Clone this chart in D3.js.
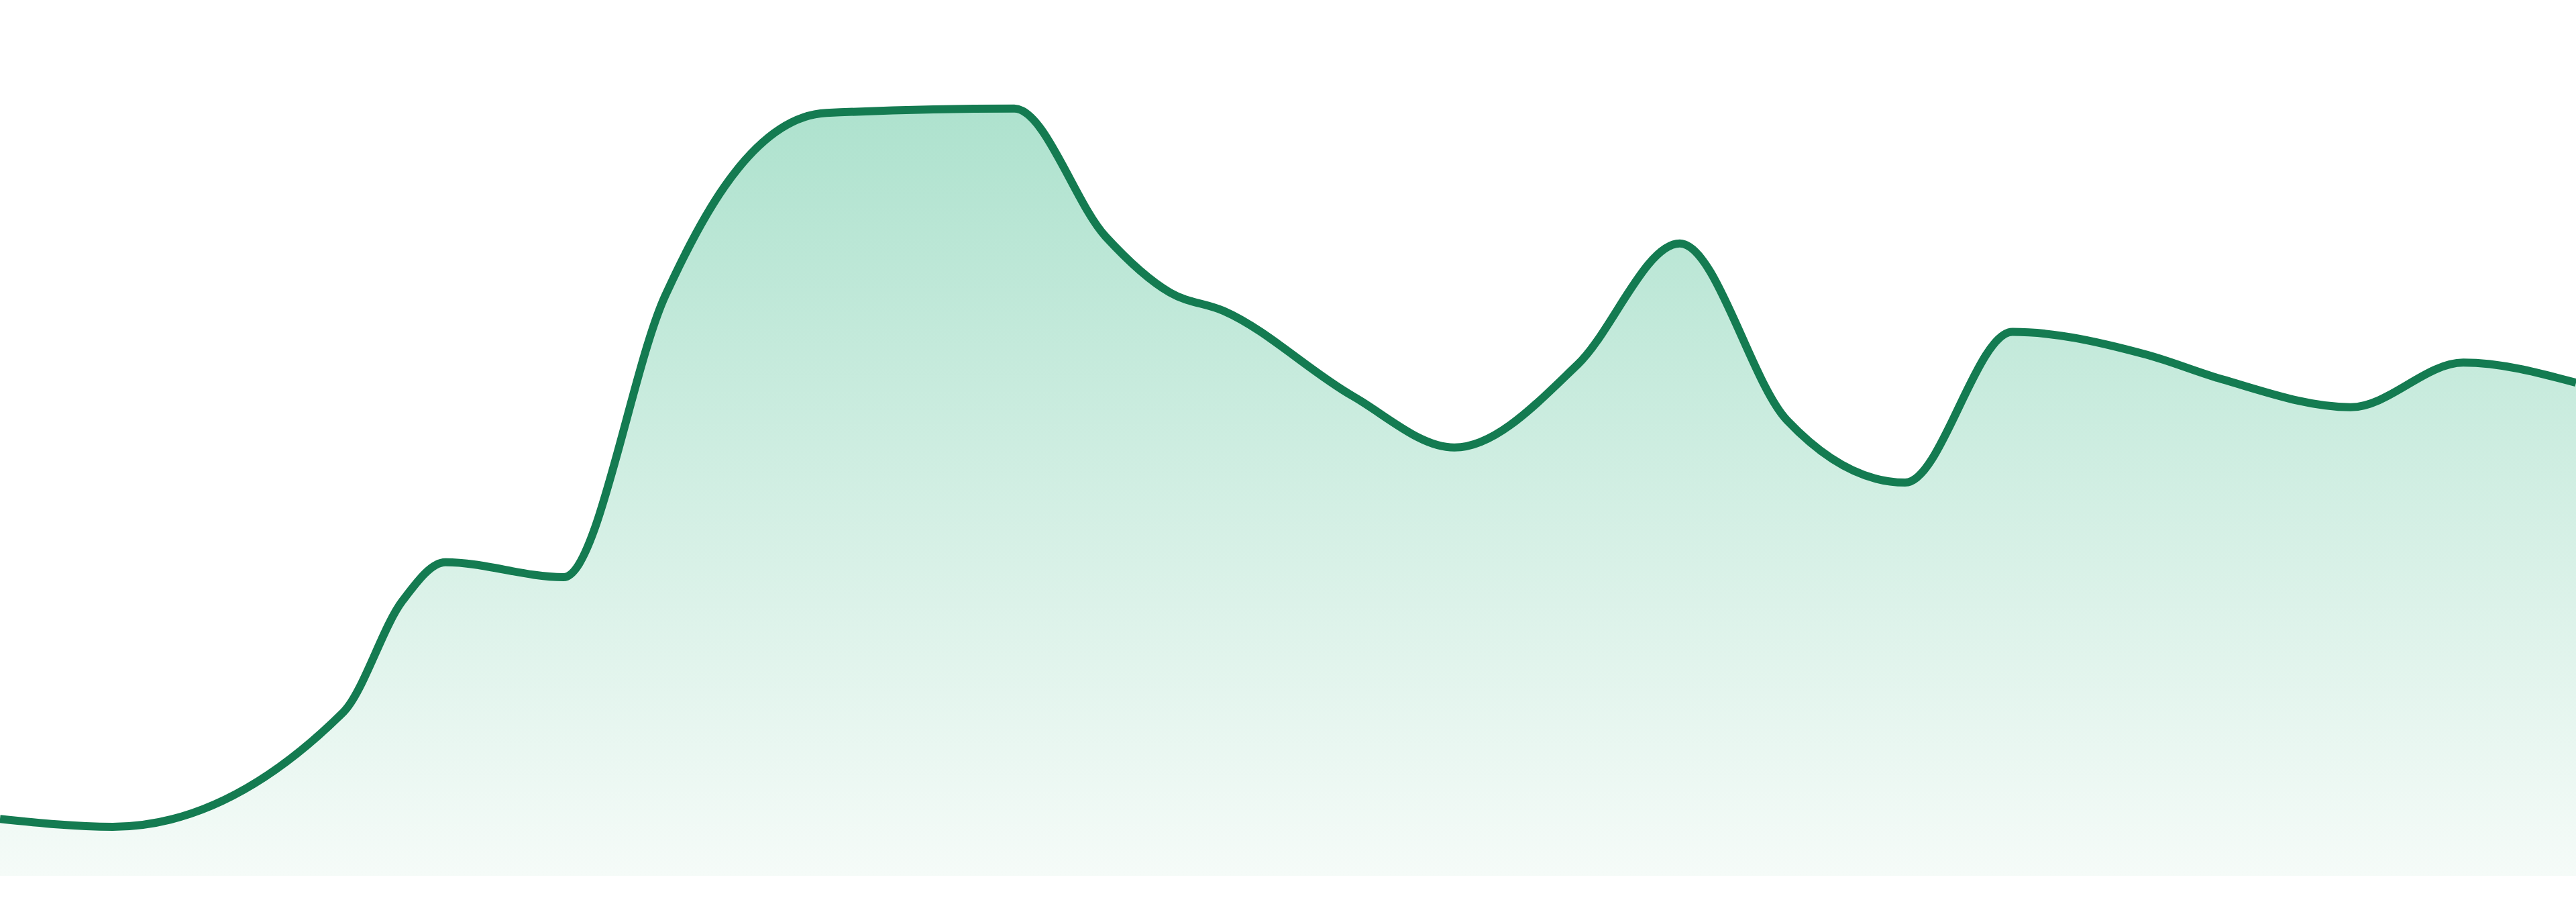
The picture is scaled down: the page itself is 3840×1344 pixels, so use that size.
<!DOCTYPE html>
<html>
<head>
<meta charset="utf-8">
<script src="https://cdn.jsdelivr.net/npm/d3@7"></script>
<style>
    html, body { margin: 0; padding: 0; background: #fff; overflow: hidden; }
    #app svg { display: block; }
</style>
</head>
<body>
<div id="app"></div>
<script>
// day index of each sample (irregular spacing) and the value at that day
const days = [0, 21, 64, 75, 83, 105, 124, 135, 154, 189, 206, 218, 228, 252, 271, 294, 313, 333, 355, 375, 400, 414, 438, 459, 480];
const values = [6.5, 5.6, 18.7, 31.4, 35.8, 34.1, 66.3, 78.7, 87.1, 87.6, 73.0, 66.6, 64.5, 54.8, 48.9, 58.4, 72.2, 52.0, 44.9, 62.1, 59.5, 56.7, 53.5, 58.6, 56.3];

const width = 3840;
const height = 1344;
const margin = { top: 0, right: 0, bottom: 39, left: 0 };

const data = days.map((d, i) => ({ day: d, value: values[i] }));

const x = d3.scaleLinear()
    .domain(d3.extent(days))
    .range([margin.left, width - margin.right]);

const y = d3.scaleLinear()
    .domain([0, 100])
    .range([height - margin.bottom, margin.top]);

const svg = d3.select("#app")
    .append("svg")
    .attr("width", width)
    .attr("height", height)
    .attr("viewBox", [0, 0, width, height]);

const grad = svg.append("defs")
    .append("linearGradient")
    .attr("id", "fade")
    .attr("x1", 0).attr("y1", 0)
    .attr("x2", 0).attr("y2", 1);

grad.append("stop").attr("offset", "0%").attr("stop-color", "#aee2ce");
grad.append("stop").attr("offset", "100%").attr("stop-color", "#f5fbf8");

const area = d3.area()
    .x(d => x(d.day))
    .y0(y(0))
    .y1(d => y(d.value))
    .curve(d3.curveMonotoneX);

const line = d3.line()
    .x(d => x(d.day))
    .y(d => y(d.value))
    .curve(d3.curveMonotoneX);

svg.append("path")
    .datum(data)
    .attr("fill", "url(#fade)")
    .attr("d", area);

svg.append("path")
    .datum(data)
    .attr("fill", "none")
    .attr("stroke", "#147b51")
    .attr("stroke-width", 12)
    .attr("stroke-linejoin", "round")
    .attr("d", line);
</script>
</body>
</html>
